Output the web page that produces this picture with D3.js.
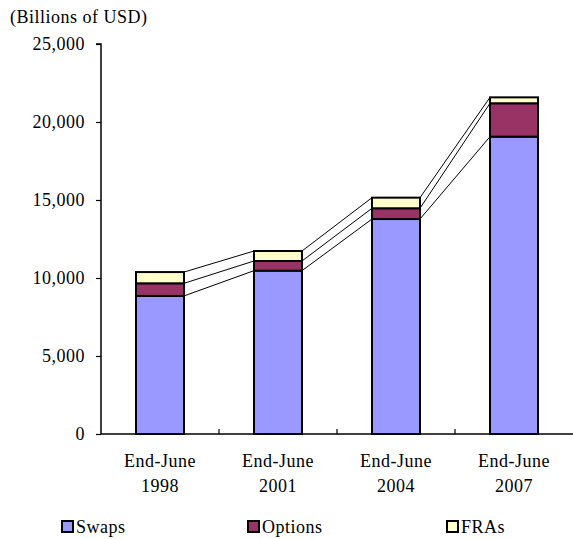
<!DOCTYPE html>
<html>
<head>
<meta charset="utf-8">
<script src="https://cdn.jsdelivr.net/npm/d3@7"></script>
<style>
  html, body { margin: 0; padding: 0; background: #fff; }
  svg { display: block; }
  text { font-family: "Liberation Serif", "DejaVu Serif", serif; fill: #000; letter-spacing: 0.5px; }
</style>
</head>
<body>
<svg id="chart" width="573" height="539"></svg>
<script>
// Categories (two-line labels) and stacked series, billions of USD
const categories = ["End-June 1998", "End-June 2001", "End-June 2004", "End-June 2007"];
const categoryLines = [["End-June", "1998"], ["End-June", "2001"], ["End-June", "2004"], ["End-June", "2007"]];
const seriesNames = ["Swaps", "Options", "FRAs"];
const swaps   = [8850, 10470, 13780, 19060];
const options = [810, 620, 690, 2140];
const fras    = [720, 640, 680, 380];
const yTicks  = [0, 5000, 10000, 15000, 20000, 25000];
const colors  = ["#9999FF", "#993366", "#FFFFCC"];

const rows = categories.map((c, i) => ({ cat: c, Swaps: swaps[i], Options: options[i], FRAs: fras[i] }));
const stacked = d3.stack().keys(seriesNames)(rows);

const svg = d3.select("#chart");
const plotLeft = 101, plotRight = 573, plotTop = 44, plotBottom = 434;
const fontSize = 18;

const x = d3.scaleBand().domain(categories).range([plotLeft, plotRight]).paddingInner(0).paddingOuter(0);
const y = d3.scaleLinear().domain([0, 25000]).range([plotBottom, plotTop]);
const barW = 48;
const barX = c => x(c) + (x.bandwidth() - barW) / 2;

// Title
svg.append("text").attr("x", 10).attr("y", 23).attr("font-size", fontSize).text("(Billions of USD)");

// Y axis
const yAxis = d3.axisLeft(y).tickValues(yTicks).tickSize(5).tickPadding(11)
  .tickFormat(d => d3.format(",")(d));
const gy = svg.append("g").attr("transform", `translate(${plotLeft},0)`).call(yAxis);
gy.select(".domain").attr("stroke", "#000").attr("stroke-width", 1.5).attr("d", `M-5,${y(25000)}H0V${plotBottom}`);
gy.selectAll(".tick line").attr("stroke", "#000").attr("stroke-width", 1.2);
gy.selectAll(".tick text").attr("font-size", fontSize)
  .attr("font-family", "Liberation Serif, serif").attr("dy", "0.33em");

// Series lines connecting segment tops between neighbouring bars
const lines = svg.append("g");
stacked.forEach(layer => {
  for (let j = 0; j < categories.length - 1; j++) {
    const a = layer[j], b = layer[j + 1];
    lines.append("line")
      .attr("x1", barX(categories[j]) + barW).attr("y1", y(a[1]))
      .attr("x2", barX(categories[j + 1])).attr("y2", y(b[1]))
      .attr("stroke", "#000").attr("stroke-width", 1);
  }
});

// Bars
stacked.forEach((layer, k) => {
  svg.append("g").selectAll("rect").data(layer).join("rect")
    .attr("x", (d, i) => barX(categories[i]))
    .attr("y", d => y(d[1]))
    .attr("width", barW)
    .attr("height", d => y(d[0]) - y(d[1]))
    .attr("fill", colors[k])
    .attr("stroke", "#000").attr("stroke-width", 2);
});

// X axis line and boundary ticks
const gx = svg.append("g");
gx.append("line").attr("x1", plotLeft).attr("x2", plotRight).attr("y1", plotBottom).attr("y2", plotBottom)
  .attr("stroke", "#000").attr("stroke-width", 1.5);
categories.slice(1).forEach(c => {
  gx.append("line").attr("x1", x(c)).attr("x2", x(c)).attr("y1", plotBottom).attr("y2", plotBottom - 5)
    .attr("stroke", "#000").attr("stroke-width", 1.2);
});
categoryLines.forEach((lns, i) => {
  const cx = x(categories[i]) + x.bandwidth() / 2;
  lns.forEach((t, r) => {
    gx.append("text").attr("x", cx).attr("y", 467 + r * 25).attr("text-anchor", "middle")
      .attr("font-size", fontSize).text(t);
  });
});

// Legend
const legendX = [62, 248, 447];
const lg = svg.append("g");
seriesNames.forEach((s, k) => {
  lg.append("rect").attr("x", legendX[k]).attr("y", 521).attr("width", 11).attr("height", 11)
    .attr("fill", colors[k]).attr("stroke", "#000").attr("stroke-width", 2);
  lg.append("text").attr("x", legendX[k] + 14).attr("y", 533).attr("font-size", fontSize).text(s);
});
</script>
</body>
</html>
